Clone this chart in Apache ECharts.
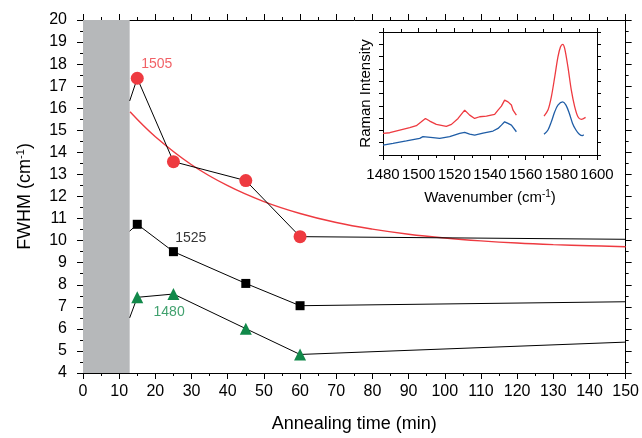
<!DOCTYPE html>
<html>
<head>
<meta charset="utf-8">
<script src="https://cdn.jsdelivr.net/npm/echarts@6/dist/echarts.min.js"></script>
<style>
html,body{margin:0;padding:0;background:#fff;}
#chart{width:642px;height:438px;}
</style>
</head>
<body>
<div id="chart"></div>
<script>
// ---- main chart data ----
// first entry: where each line leaves the grey band (t = 12.9 min); last: end of line at 150 min
const times = [12.9, 15, 25, 45, 60, 150];
const fwhm1505 = [16.33, 17.36, 13.58, 12.72, 10.18, 10.06];
const fwhm1525 = [10.43, 10.74, 9.5, 8.06, 7.05, 7.23];
const fwhm1480 = [6.5, 7.43, 7.58, 6.01, 4.84, 5.4];
const fitTimes = [13, 20, 30, 40, 50, 60, 70, 80, 90, 100, 110, 120, 130, 140, 150];
const fit1505 = [15.84, 14.71, 13.44, 12.49, 11.77, 11.23, 10.82, 10.52, 10.29, 10.12, 9.99, 9.89, 9.82, 9.77, 9.72];
const bandRange = [0, 12.9];

// ---- inset spectra (wavenumber, intensity a.u.) ----
const redSeg1 = [[1480.0,17.6],[1483.8,18.1],[1489.4,20.3],[1495.0,22.2],[1498.7,23.8],[1501.5,27.0],[1503.8,29.7],[1506.2,27.6],[1509.9,24.9],[1515.5,23.3],[1518.4,24.9],[1522.1,29.7],[1525.8,36.5],[1528.6,32.4],[1531.4,29.7],[1534.2,31.1],[1538.0,31.6],[1542.6,33.0],[1544.5,36.5],[1546.4,39.7],[1548.2,44.6],[1549.2,46.0],[1550.1,43.2],[1551.0,44.1],[1552.0,40.6],[1552.9,36.5],[1554.8,32.4]];
const redSeg2 = [[1570.3,31.6],[1572.5,36.5],[1574.4,47.3],[1576.3,63.5],[1578.1,79.7],[1579.5,87.8],[1580.8,90.0],[1581.9,86.5],[1583.7,71.6],[1585.6,52.7],[1587.5,39.2],[1589.3,31.1],[1591.2,29.0],[1593.6,30.6]];
const blueSeg1 = [[1480.0,8.1],[1485.6,9.5],[1493.1,11.4],[1500.6,13.5],[1502.4,14.9],[1508.0,14.1],[1511.8,13.5],[1517.4,14.9],[1523.0,17.6],[1525.8,18.4],[1528.6,17.0],[1531.4,16.2],[1536.1,17.8],[1541.7,19.5],[1544.5,21.6],[1546.4,24.3],[1548.2,27.0],[1549.2,27.8],[1550.1,25.7],[1551.0,26.2],[1552.0,24.3],[1552.9,23.0],[1554.8,18.9]];
const blueSeg2 = [[1570.3,16.8],[1572.5,20.3],[1574.4,27.0],[1576.3,35.1],[1578.1,40.6],[1580.8,43.2],[1582.6,40.6],[1584.5,33.8],[1586.3,25.7],[1588.2,20.3],[1590.1,16.8],[1591.9,15.7],[1592.5,16.5]];

const RED = '#ee3a40', GREEN = '#11894a', BLUE = '#1f5da6', GREY = '#b6b8ba';
const FONT = 'Liberation Sans, Arial, sans-serif';

function pts(ys) {
  return times.map((t, i) => {
    const hidden = (i === 0 || i === times.length - 1);
    return hidden ? {value: [t, ys[i]], symbol: 'none'} : {value: [t, ys[i]]};
  });
}

const chart = echarts.init(document.getElementById('chart'), null, {renderer: 'canvas'});

const axisCommon = {
  axisLine: {show: true, onZero: false, lineStyle: {color: '#000', width: 1}},
  splitLine: {show: false},
  axisTick: {show: true, inside: false, length: 6, lineStyle: {color: '#000'}},
  minorTick: {show: true, splitNumber: 2, length: 3, lineStyle: {color: '#000'}}
};

const option = {
  animation: false,
  backgroundColor: '#fff',
  textStyle: {fontFamily: FONT},
  grid: [
    {left: 83, top: 20, right: 14, bottom: 65},
    {left: 383, top: 32, width: 214, height: 123}
  ],
  xAxis: [
    Object.assign({}, axisCommon, {
      gridIndex: 0, type: 'value', min: 0, max: 150, interval: 10, position: 'bottom',
      axisLabel: {color: '#000', fontSize: 16, margin: 11, fontFamily: FONT},
      name: 'Annealing time (min)', nameLocation: 'middle', nameGap: 42,
      nameTextStyle: {color: '#000', fontSize: 18, fontFamily: FONT}
    }),
    Object.assign({}, axisCommon, {
      gridIndex: 0, type: 'value', min: 0, max: 150, interval: 10, position: 'top',
      axisLabel: {show: false}
    }),
    Object.assign({}, axisCommon, {
      gridIndex: 1, type: 'value', min: 1480, max: 1600, interval: 20, position: 'bottom',
      axisTick: {show: true, length: 5, lineStyle: {color: '#000'}},
      minorTick: {show: true, splitNumber: 2, length: 3, lineStyle: {color: '#000'}},
      axisLabel: {color: '#000', fontSize: 15, margin: 12, fontFamily: FONT,
        formatter: v => String(v), showMinLabel: true, showMaxLabel: true, hideOverlap: false},
      name: 'Wavenumber (cm{sup|-1})', nameLocation: 'middle', nameGap: 34,
      nameTextStyle: {color: '#000', fontSize: 15, fontFamily: FONT,
        rich: {sup: {fontSize: 10, fontFamily: FONT, color: '#000', verticalAlign: 'bottom', padding: [0, 0, 8, 0]}}}
    }),
    Object.assign({}, axisCommon, {
      gridIndex: 1, type: 'value', min: 1480, max: 1600, interval: 20, position: 'top',
      axisTick: {show: true, length: 4, lineStyle: {color: '#000'}},
      axisLabel: {show: false}
    })
  ],
  yAxis: [
    Object.assign({}, axisCommon, {
      gridIndex: 0, type: 'value', min: 4, max: 20, interval: 1, position: 'left',
      axisLabel: {color: '#000', fontSize: 16, margin: 16, fontFamily: FONT},
      name: 'FWHM (cm{sup|-1})', nameLocation: 'middle', nameGap: 48, nameRotate: 90,
      nameTextStyle: {color: '#000', fontSize: 18, fontFamily: FONT,
        rich: {sup: {fontSize: 11, fontFamily: FONT, color: '#000', verticalAlign: 'bottom', padding: [0, 0, 9, 0]}}}
    }),
    Object.assign({}, axisCommon, {
      gridIndex: 0, type: 'value', min: 4, max: 20, interval: 1, position: 'right',
      axisLabel: {show: false}
    }),
    Object.assign({}, axisCommon, {
      gridIndex: 1, type: 'value', min: 0, max: 100, interval: 10, position: 'left',
      axisTick: {show: true, length: 4, lineStyle: {color: '#000'}},
      minorTick: {show: false},
      axisLabel: {show: false},
      name: 'Raman Intensity', nameLocation: 'middle', nameGap: 10, nameRotate: 90,
      nameTextStyle: {color: '#000', fontSize: 15, fontFamily: FONT}
    }),
    Object.assign({}, axisCommon, {
      gridIndex: 1, type: 'value', min: 0, max: 100, interval: 10, position: 'right',
      axisTick: {show: true, length: 4, lineStyle: {color: '#000'}},
      minorTick: {show: false},
      axisLabel: {show: false}
    })
  ],
  series: [
    {
      name: 'band', type: 'line', xAxisIndex: 0, yAxisIndex: 0, z: 1,
      data: [], silent: true,
      markArea: {silent: true, itemStyle: {color: GREY, opacity: 1},
        data: [[{xAxis: bandRange[0], yAxis: 4}, {xAxis: bandRange[1], yAxis: 20}]]}
    },
    {
      name: 'fit1505', type: 'line', xAxisIndex: 0, yAxisIndex: 0, z: 2,
      data: fitTimes.map((t, i) => [t, fit1505[i]]), smooth: 0.4, symbol: 'none',
      lineStyle: {color: RED, width: 1.4}
    },
    {
      name: '1505', type: 'line', xAxisIndex: 0, yAxisIndex: 0, z: 3,
      data: pts(fwhm1505), symbol: 'circle', symbolSize: 13,
      itemStyle: {color: RED}, lineStyle: {color: '#000', width: 1}
    },
    {
      name: '1525', type: 'line', xAxisIndex: 0, yAxisIndex: 0, z: 3,
      data: pts(fwhm1525), symbol: 'rect', symbolSize: 9,
      itemStyle: {color: '#000'}, lineStyle: {color: '#000', width: 1}
    },
    {
      name: '1480', type: 'line', xAxisIndex: 0, yAxisIndex: 0, z: 3,
      data: pts(fwhm1480), symbol: 'triangle', symbolSize: 12,
      itemStyle: {color: GREEN}, lineStyle: {color: '#000', width: 1}
    },
    {
      name: 'labels', type: 'scatter', xAxisIndex: 0, yAxisIndex: 0, z: 11,
      symbolSize: 0, silent: true,
      data: [
        {value: [20.4, 18.0], name: '1505', label: {color: RED}},
        {value: [29.8, 10.12], name: '1525', label: {color: '#000'}},
        {value: [23.8, 6.75], name: '1480', label: {color: GREEN}}
      ],
      label: {show: true, position: 'inside', formatter: p => p.name, fontSize: 14, fontFamily: FONT}
    },
    {type: 'line', xAxisIndex: 2, yAxisIndex: 2, data: redSeg1, symbol: 'none', lineStyle: {color: RED, width: 1.3}},
    {type: 'line', xAxisIndex: 2, yAxisIndex: 2, data: redSeg2, symbol: 'none', smooth: 0.3, lineStyle: {color: RED, width: 1.3}},
    {type: 'line', xAxisIndex: 2, yAxisIndex: 2, data: blueSeg1, symbol: 'none', lineStyle: {color: BLUE, width: 1.3}},
    {type: 'line', xAxisIndex: 2, yAxisIndex: 2, data: blueSeg2, symbol: 'none', smooth: 0.3, lineStyle: {color: BLUE, width: 1.3}}
  ]
};
chart.setOption(option);
</script>
</body>
</html>
